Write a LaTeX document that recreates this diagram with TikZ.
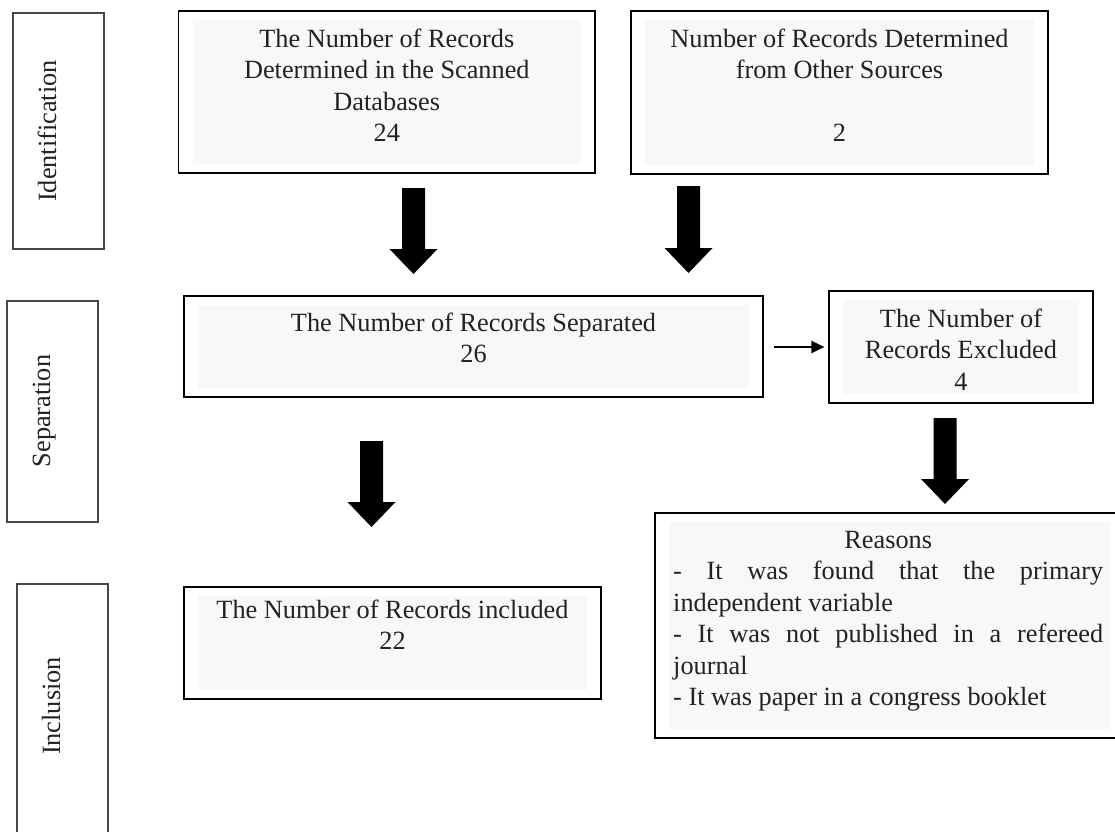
\documentclass[tikz,border=0pt]{standalone}
\usepackage{fontspec}
\setmainfont{Liberation Serif}
\usetikzlibrary{calc,arrows.meta}
\definecolor{boxfill}{RGB}{247,248,250}
\definecolor{txt}{RGB}{34,34,34}
\definecolor{labline}{RGB}{70,70,70}
\newcommand{\BlockArr}[2]{%
  \fill[blockarrow] let \p1=(#1), \p2=(#2) in
    (\x1-11.5pt,\y1) -- (\x1+11.5pt,\y1) -- (\x1+11.5pt,\y2+25pt) --
    (\x1+24pt,\y2+25pt) -- (\x1,\y2) -- (\x1-24pt,\y2+25pt) --
    (\x1-11.5pt,\y2+25pt) -- cycle;}
\begin{document}
\begin{tikzpicture}[x=1pt,y=-1pt,
  mainbox/.style={draw=black,line width=1.2pt,fill=white,rectangle,inner sep=0pt},
  labbox/.style={draw=labline,line width=1.2pt,fill=white,rectangle,inner sep=0pt},
  boxtext/.style={inner sep=0pt,text=txt,align=center,anchor=north,
    font=\fontsize{26.3}{31.5}\selectfont},
  labtext/.style={inner sep=0pt,text=txt,rotate=90,anchor=base,
    font=\fontsize{26.3}{31.5}\selectfont},
  blockarrow/.style={black},
  thinarrow/.style={line width=2pt,-{Triangle[width=12pt,length=13pt]}}]
\useasboundingbox (0,0) rectangle (1115,831);
\fill[white] (0,0) rectangle (1115,831);
\begin{scope}
\clip (0,0) rectangle (1115,831);
% left stage labels
\node[labbox,minimum width=91pt,minimum height=236pt] (l1) at (58.5,131) {};
\node[labbox,minimum width=91pt,minimum height=221pt] (l2) at (52.5,411.5) {};
\node[labbox,minimum width=91pt,minimum height=261pt] (l3) at (62.5,714.5) {};
\node[labtext] (l1t) at (56,131) {Identification};
\node[labtext] (l2t) at (50,411) {Separation};
\node[labtext] (l3t) at (60,706) {Inclusion};
% main boxes
\node[mainbox,minimum width=416.4pt,minimum height=162pt] (b1) at (386.8,92) {};
\node[mainbox,minimum width=417pt,minimum height=163pt] (b2) at (839.5,92.5) {};
\node[mainbox,minimum width=579pt,minimum height=101pt] (b3) at (473.5,346.5) {};
\node[mainbox,minimum width=264pt,minimum height=112pt] (b4) at (961,347) {};
\node[mainbox,minimum width=417pt,minimum height=112pt] (b5) at (392.5,643) {};
\node[mainbox,minimum width=470pt,minimum height=225pt] (b6) at (890,625.5) {};
% inner shaded panels
\foreach \b in {b1,b2,b3,b4,b5,b6}{
  \fill[boxfill] ($(\b.north west)+(15,9.5)$) rectangle ($(\b.south east)+(-15,-9.5)$);
}
% texts
\node[boxtext] (t1) at (386.8,27) {\rule{0pt}{20pt}The Number of Records\\Determined in the Scanned\\Databases\\24};
\node[boxtext] (t2) at (839.5,27) {\rule{0pt}{20pt}Number of Records Determined\\from Other Sources\\\mbox{}\\2};
\node[boxtext] (t3) at (473.5,311) {\rule{0pt}{20pt}The Number of Records Separated\\26};
\node[boxtext] (t4) at (961,307) {\rule{0pt}{20pt}The Number of\\Records Excluded\\4};
\node[boxtext] (t5) at (392.5,598) {\rule{0pt}{20pt}The Number of Records included\\22};
\node[boxtext,align=left,anchor=north west] (t6) at (673,528) {%
  \rule{0pt}{20pt}\makebox[430pt][c]{Reasons}\\
  \makebox[430pt][s]{- It was found that the primary}\\
  \makebox[430pt][l]{independent variable}\\
  \makebox[430pt][s]{- It was not published in a refereed}\\
  \makebox[430pt][l]{journal}\\
  \makebox[430pt][l]{- It was paper in a congress booklet}};
% connectors
\coordinate (a1s) at (413.5,188); \coordinate (a1e) at (413.5,274);
\coordinate (a2s) at (688.5,186); \coordinate (a2e) at (688.5,273);
\coordinate (a3s) at (371.5,441); \coordinate (a3e) at (371.5,527);
\coordinate (a4s) at (945,418);   \coordinate (a4e) at (945,504);
\BlockArr{a1s}{a1e}
\BlockArr{a2s}{a2e}
\BlockArr{a3s}{a3e}
\BlockArr{a4s}{a4e}
\coordinate (hs) at ($(b3.east)+(10,0.5)$);
\coordinate (he) at ($(b4.west)+(-4,0)$);
\draw[thinarrow] (hs) -- (he);
\end{scope}
\end{tikzpicture}
\end{document}
